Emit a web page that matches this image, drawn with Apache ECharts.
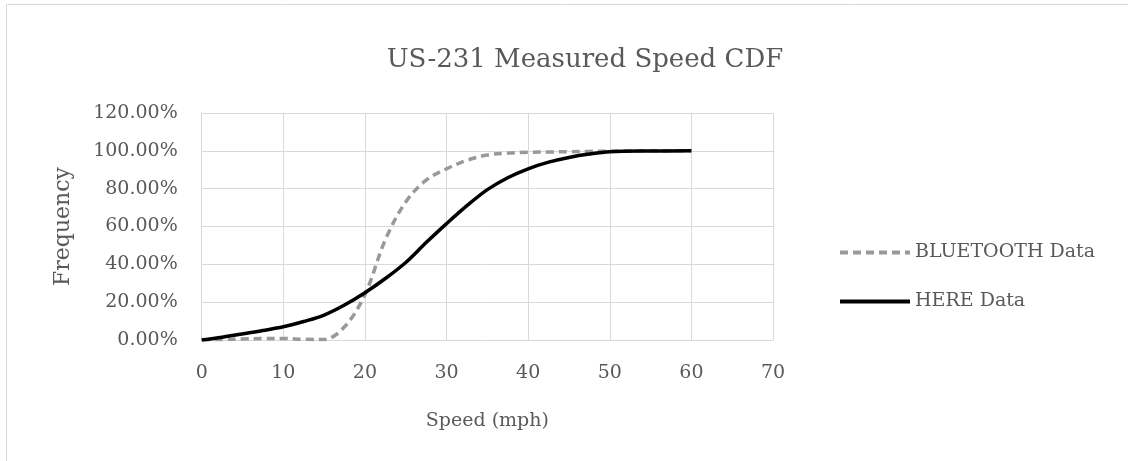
<!DOCTYPE html>
<html><head><meta charset="utf-8">
<script src="https://cdn.jsdelivr.net/npm/echarts@6/dist/echarts.min.js"></script>
<style>html,body{margin:0;padding:0;background:#fff}#c{width:1128px;height:461px}</style>
</head><body><div id="c"></div>
<script>
const speeds = [0, 2.5, 5, 7.5, 10, 12.5, 15, 17.5, 20, 22.5, 25, 27.5, 30, 32.5, 35, 37.5, 40, 42.5, 45, 47.5, 50, 55, 60];
const bluetooth = [0, 0.3, 0.5, 0.8, 0.8, 0.4, 0.3, 7, 24, 53, 73, 84.5, 90.5, 95, 97.8, 98.8, 99.2, 99.4, 99.5, 99.7, 99.8, 100, 100];
const here = [0, 1.5, 3.2, 5, 7, 9.8, 13.2, 18.5, 25, 32.5, 41, 51.5, 61.5, 71, 79.5, 85.8, 90.5, 94, 96.5, 98.3, 99.5, 99.9, 100];
const xTicks = [0, 10, 20, 30, 40, 50, 60, 70];
const yTicks = [0, 20, 40, 60, 80, 100, 120];

const font = "'DejaVu Serif', 'Liberation Serif', serif";
const txt = '#595959';
const chart = echarts.init(document.getElementById('c'));
chart.setOption({
  animation: false,
  backgroundColor: '#fff',
  textStyle: {fontFamily: font},
  graphic: [{type: 'rect', shape: {x: 6.5, y: 4.5, width: 1140, height: 480}, style: {fill: 'none', stroke: '#d9d9d9', lineWidth: 1}}],
  title: {text: 'US-231 Measured Speed CDF', left: 580, top: 42, textAlign: 'center',
    textStyle: {fontFamily: font, fontSize: 26, fontWeight: 'normal', color: txt}},
  legend: {orient: 'vertical', left: 833, top: 238, itemWidth: 70, itemHeight: 14, itemGap: 30,
    itemStyle: {opacity: 0, borderWidth: 0, color: 'rgba(0,0,0,0)'},
    lineStyle: {width: 4},
    textStyle: {fontFamily: font, fontSize: 19, color: txt},
    data: ['BLUETOOTH Data', 'HERE Data']},
  grid: {left: 201.7, right: 355, top: 113, bottom: 121},
  xAxis: {type: 'value', min: xTicks[0], max: xTicks[xTicks.length - 1], interval: 10,
    name: 'Speed (mph)', nameLocation: 'middle', nameGap: 72,
    nameTextStyle: {fontFamily: font, fontSize: 19, color: txt},
    axisLine: {show: true, lineStyle: {color: '#d9d9d9'}}, axisTick: {show: false},
    axisLabel: {fontFamily: font, fontSize: 19, color: txt, margin: 24},
    splitLine: {show: true, lineStyle: {color: '#d9d9d9', width: 1}}},
  yAxis: {type: 'value', min: yTicks[0], max: yTicks[yTicks.length - 1], interval: 20,
    name: 'Frequency', nameLocation: 'middle', nameGap: 127,
    nameTextStyle: {fontFamily: font, fontSize: 22, color: txt},
    axisLine: {show: true, lineStyle: {color: '#d9d9d9'}}, axisTick: {show: false},
    axisLabel: {fontFamily: font, fontSize: 19, color: txt, margin: 24, formatter: v => v.toFixed(2) + '%'},
    splitLine: {show: true, lineStyle: {color: '#d9d9d9', width: 1}}},
  series: [
    {name: 'BLUETOOTH Data', type: 'line', smooth: 0.35, symbol: 'none',
      data: speeds.map((s, i) => [s, bluetooth[i]]), color: '#999999',
      lineStyle: {color: '#999999', width: 3.5, type: [8, 5]}},
    {name: 'HERE Data', type: 'line', smooth: 0.35, symbol: 'none',
      data: speeds.map((s, i) => [s, here[i]]), color: '#000000',
      lineStyle: {color: '#000000', width: 3.5}}
  ]
});
</script></body></html>
